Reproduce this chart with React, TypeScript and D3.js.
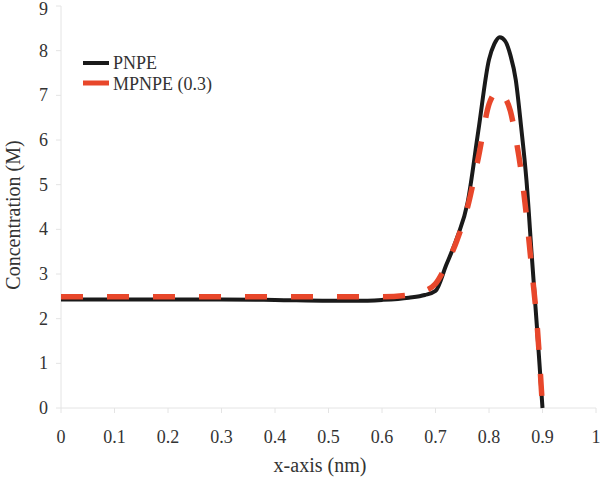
import React from "react";
import * as d3 from "d3";

const xTicks = [0, 0.1, 0.2, 0.3, 0.4, 0.5, 0.6, 0.7, 0.8, 0.9, 1];
const yTicks = [0, 1, 2, 3, 4, 5, 6, 7, 8, 9];

const pnpeX = [0, 0.1, 0.2, 0.3, 0.4, 0.5, 0.55, 0.6, 0.65, 0.68, 0.7, 0.72, 0.74, 0.76, 0.78, 0.8, 0.81, 0.82, 0.83, 0.84, 0.85, 0.86, 0.87, 0.88, 0.89, 0.9];
const pnpeY = [2.43, 2.43, 2.43, 2.43, 2.42, 2.4, 2.4, 2.42, 2.47, 2.53, 2.62, 3.2, 3.8, 4.6, 6.2, 7.8, 8.15, 8.3, 8.22, 7.9, 7.35, 6.3, 5.1, 3.4, 1.75, 0];

const mpnpeX = [0, 0.1, 0.2, 0.3, 0.4, 0.5, 0.6, 0.65, 0.68, 0.7, 0.72, 0.74, 0.76, 0.78, 0.8, 0.81, 0.815, 0.82, 0.83, 0.84, 0.85, 0.86, 0.87, 0.88, 0.89, 0.9];
const mpnpeY = [2.49, 2.49, 2.49, 2.49, 2.49, 2.49, 2.49, 2.53, 2.62, 2.78, 3.2, 3.75, 4.5, 5.6, 6.8, 7.05, 7.13, 7.1, 6.95, 6.65, 6.05, 5.3, 4.3, 3.1, 1.85, 0];

const seriesNames = ["PNPE", "MPNPE (0.3)"];

const FONT = "'Liberation Serif', 'DejaVu Serif', 'Noto Serif', serif";

export default function App() {
  const width = 600;
  const height = 482;
  const x = d3.scaleLinear().domain([0, 1]).range([61, 596]);
  const y = d3.scaleLinear().domain([0, 9]).range([408, 6]);
  const line = d3
    .line<[number, number]>()
    .x((d) => x(d[0]))
    .y((d) => y(d[1]))
    .curve(d3.curveMonotoneX);
  const pnpe = pnpeX.map((v, i) => [v, pnpeY[i]] as [number, number]);
  const mpnpe = mpnpeX.map((v, i) => [v, mpnpeY[i]] as [number, number]);
  const axisColor = "#e4e4e4";
  const ts = (size: number): React.CSSProperties => ({ fontFamily: FONT, fontSize: size + "px" });
  return (
    <svg
      width={width}
      height={height}
      style={{ position: "absolute", left: 0, top: 0, background: "#fff", fontFamily: FONT }}
    >
      <line x1={x(0)} x2={x(1)} y1={y(0)} y2={y(0)} stroke={axisColor} strokeWidth={1} />
      <line x1={x(0)} x2={x(0)} y1={y(0)} y2={y(9)} stroke={axisColor} strokeWidth={1} />
      {xTicks.map((t) => (
        <g key={"xt" + t}>
          <line x1={x(t)} x2={x(t)} y1={y(0)} y2={y(0) + 5} stroke={axisColor} />
          <text x={x(t)} y={443} textAnchor="middle" style={ts(18)} fill="#333">
            {String(t)}
          </text>
        </g>
      ))}
      {yTicks.map((t) => (
        <g key={"yt" + t}>
          <line x1={x(0) - 5} x2={x(0)} y1={y(t)} y2={y(t)} stroke={axisColor} />
          <text x={48} y={Math.max(y(t) + 6, 15)} textAnchor="end" style={ts(18)} fill="#333">
            {String(t)}
          </text>
        </g>
      ))}
      <text x={320} y={472} textAnchor="middle" style={ts(20)} fill="#333">
        x-axis (nm)
      </text>
      <text
        transform={`translate(20, 215) rotate(-90)`}
        textAnchor="middle"
        style={ts(20)}
        fill="#333"
      >
        Concentration (M)
      </text>
      <path d={line(pnpe) || ""} fill="none" stroke="#1a1a1a" strokeWidth={4} />
      <path
        d={line(mpnpe) || ""}
        fill="none"
        stroke="#e8472b"
        strokeWidth={5.5}
        strokeDasharray="22 24"
      />
      <line x1={83} x2={109} y1={63} y2={63} stroke="#1a1a1a" strokeWidth={4} />
      <text x={113} y={69} style={ts(18)} fill="#333">
        {seriesNames[0]}
      </text>
      <line x1={83} x2={109} y1={83} y2={83} stroke="#e8472b" strokeWidth={5} />
      <text x={113} y={90} style={ts(18)} fill="#333">
        {seriesNames[1]}
      </text>
    </svg>
  );
}
